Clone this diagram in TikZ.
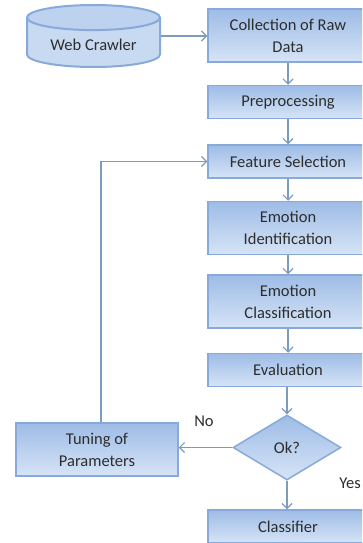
\documentclass[tikz,border=0pt]{standalone}
\usepackage{fontspec}
\setmainfont{Carlito}
\usepackage{tikz}
\newcommand{\boxwidth}{160pt}
\newcommand{\boxheight}{33pt}
\definecolor{boxTop}{RGB}{158,188,230}
\definecolor{boxBot}{RGB}{214,228,246}
\definecolor{boxLine}{RGB}{135,170,218}
\definecolor{arrowLine}{RGB}{125,155,188}
\definecolor{txtGray}{RGB}{45,45,45}
\usetikzlibrary{arrows.meta,calc,positioning,shapes.geometric}
\tikzset{
  >={Straight Barb[length=5pt,width=10pt]},
  font=\fontsize{16.5}{22}\selectfont,
  text=txtGray,
  rect/.style={draw=boxLine,line width=1.5pt,top color=boxTop,bottom color=boxBot,shape=rectangle,minimum width=\boxwidth,minimum height=\boxheight,inner sep=1mm,align=center},
  tallrect/.style={rect,minimum height=53pt},
  diam/.style={draw=boxLine,line width=1.5pt,top color=boxTop,bottom color=boxBot,shape=diamond,aspect=1.66,minimum width=108pt,minimum height=65pt,inner sep=0},
  cyl/.style={draw=boxLine,line width=2pt,shape=cylinder,shape border rotate=90,aspect=0.27,minimum width=133pt,minimum height=62pt,cylinder uses custom fill,cylinder body fill=boxBot!75!boxTop,cylinder end fill=boxBot!55!boxTop},
  line/.style={draw=arrowLine,->,line width=1.2pt},
}
\begin{document}
\begin{tikzpicture}[x=1pt,y=-1pt]
  \useasboundingbox (0,0) rectangle (362,543);
  \clip (0,0) rectangle (362,543);
  \node (crawler) [cyl,anchor=shape center] at (93.5,36) {Web Crawler};
  \node (raw) [tallrect] at (288,35.5) {Collection of Raw\\Data};
  \node (prep) [rect] at (288,102) {Preprocessing};
  \node (feat) [rect] at (288,161.5) {Feature Selection};
  \node (ident) [tallrect] at (288,228) {Emotion\\Identification};
  \node (class) [tallrect] at (288,301.5) {Emotion\\Classification};
  \node (eval) [rect] at (288,370) {Evaluation};
  \node (ok) [diam] at (287,447.5) {Ok?};
  \node (tune) [tallrect,minimum width=162pt] at (97,449.5) {Tuning of\\Parameters};
  \node (cls) [rect] at (288,526.5) {Classifier};
  \node (no) at (204,421) {No};
  \node (yes) [anchor=east,inner sep=1pt] at (362,483) {Yes};
  \path [line] (crawler.shape center -| crawler.east) -- (crawler.shape center -| raw.west);
  \path [line] (raw) -- (prep);
  \path [line] (prep) -- (feat);
  \path [line] (feat) -- (ident);
  \path [line] (ident) -- (class);
  \path [line] (class) -- (eval);
  \path [line] (eval.south -| ok.north) -- (ok.north);
  \path [line] (ok.west) -- (ok.west -| tune.east);
  \path [line] (ok.south) -- (ok.south |- cls.north);
  \path [line] ($(tune.north)+(4,0)$) |- (feat.west);
\end{tikzpicture}
\end{document}
